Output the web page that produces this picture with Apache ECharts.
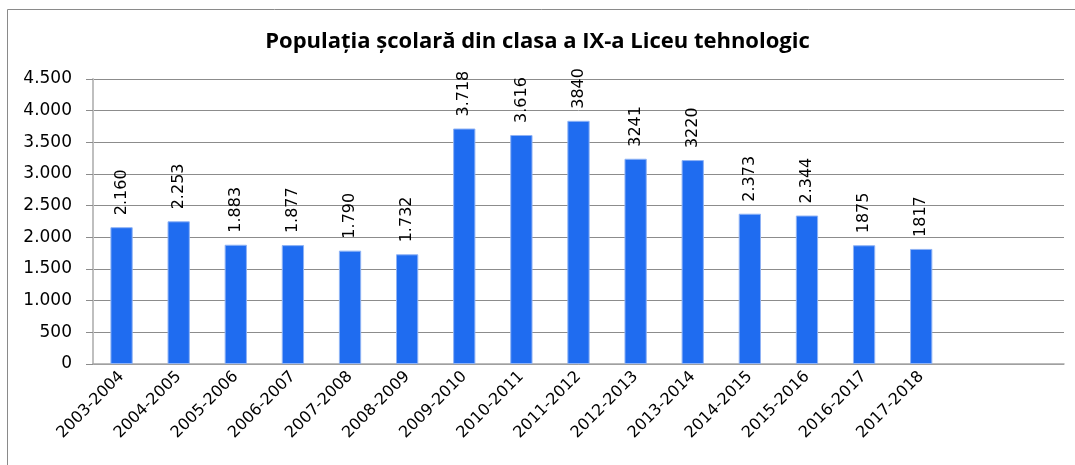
<!DOCTYPE html>
<html>
<head>
<meta charset="utf-8">
<script src="https://cdn.jsdelivr.net/npm/echarts@6/dist/echarts.min.js"></script>
<style>
  html, body { margin: 0; padding: 0; background: #fff; }
  #chart { width: 1075px; height: 465px; }
</style>
</head>
<body>
<div id="chart"></div>
<script>
  // anii scolari (ultimele doua categorii sunt goale, ca in original)
  var years = ['2003-2004', '2004-2005', '2005-2006', '2006-2007', '2007-2008',
    '2008-2009', '2009-2010', '2010-2011', '2011-2012', '2012-2013', '2013-2014',
    '2014-2015', '2015-2016', '2016-2017', '2017-2018', '', ''];
  var pupils = [2160, 2253, 1883, 1877, 1790, 1732, 3718, 3616, 3840, 3241, 3220,
    2373, 2344, 1875, 1817, null, null];
  // etichetele asa cum apar in grafic (unele fara separator)
  var pupilLabels = ['2.160', '2.253', '1.883', '1.877', '1.790', '1.732', '3.718',
    '3.616', '3840', '3241', '3220', '2.373', '2.344', '1875', '1817', '', ''];
  var yTicks = ['0', '500', '1.000', '1.500', '2.000', '2.500', '3.000', '3.500', '4.000', '4.500'];

  var chart = echarts.init(document.getElementById('chart'));

  var option = {
    animation: false,
    title: {
      text: 'Populația școlară din clasa a IX-a Liceu tehnologic',
      left: 'center',
      top: 26,
      textStyle: {
        fontFamily: 'Open Sans',
        fontWeight: 'bold',
        fontSize: 22,
        color: '#000'
      }
    },
    graphic: [{
      type: 'rect',
      shape: { x: 7.5, y: 9.5, width: 1100, height: 500 },
      style: { fill: 'none', stroke: '#8a8a8a', lineWidth: 1 },
      silent: true
    }],
    grid: {
      left: 93,
      right: 11,
      top: 79,
      bottom: 101
    },
    xAxis: {
      type: 'category',
      data: years,
      axisLine: { lineStyle: { color: '#a6a6a6', width: 1.5 } },
      axisTick: { length: 5, lineStyle: { color: '#a6a6a6', width: 1.5 } },
      axisLabel: {
        rotate: 45,
        interval: 0,
        margin: 10,
        fontFamily: 'DejaVu Sans',
        fontSize: 16,
        color: '#000'
      }
    },
    yAxis: {
      type: 'value',
      min: 0,
      max: 4500,
      interval: 500,
      axisLine: { show: true, lineStyle: { color: '#bfbfbf', width: 2 } },
      axisTick: { show: true, length: 7, lineStyle: { color: '#8c8c8c' } },
      splitLine: { lineStyle: { color: '#8c8c8c', width: 1 } },
      axisLabel: {
        margin: 21,
        fontFamily: 'DejaVu Sans',
        fontSize: 17,
        color: '#000',
        formatter: function (v) { return yTicks[v / 500]; }
      }
    },
    series: [{
      type: 'bar',
      data: pupils,
      barWidth: '39%',
      itemStyle: {
        color: '#1f6cf0',
        borderColor: '#8fb3f5',
        borderWidth: 1
      },
      label: {
        show: true,
        position: 'top',
        rotate: 90,
        align: 'left',
        verticalAlign: 'middle',
        distance: 12,
        fontFamily: 'DejaVu Sans',
        fontSize: 16,
        color: '#000',
        formatter: function (p) { return pupilLabels[p.dataIndex]; }
      }
    }]
  };

  chart.setOption(option);
</script>
</body>
</html>
